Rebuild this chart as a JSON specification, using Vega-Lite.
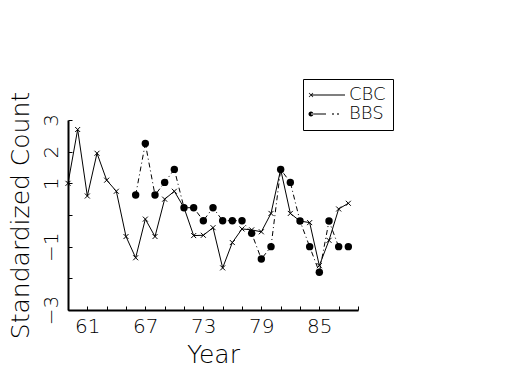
{
  "$schema": "https://vega.github.io/schema/vega-lite/v6.json",
  "autosize": {"type": "none"},
  "padding": {"left": 68, "top": 120, "right": 167, "bottom": 65},
  "width": 290,
  "height": 190,
  "background": "white",
  "config": {
    "view": {"stroke": null},
    "font": "DejaVu Sans",
    "axis": {
      "domainColor": "black",
      "domainWidth": 2,
      "tickColor": "black",
      "tickWidth": 1,
      "tickSize": -4,
      "grid": false,
      "labelColor": "black",
      "titleColor": "black",
      "labelFont": "DejaVu Sans",
      "titleFont": "DejaVu Sans",
      "labelFontWeight": 200,
      "titleFontWeight": 200,
      "labelFontSize": 20,
      "titleFontSize": 25
    },
    "legend": {
      "orient": "none",
      "legendX": 235,
      "legendY": -41,
      "strokeColor": "black",
      "strokeWidth": 1,
      "padding": 7,
      "labelFont": "DejaVu Sans",
      "labelFontWeight": 200,
      "labelFontSize": 18,
      "labelColor": "black",
      "labelOffset": 21,
      "rowPadding": 1
    }
  },
  "data": {
    "values": [
      {"year": 59, "series": "CBC", "value": 1.0},
      {"year": 60, "series": "CBC", "value": 2.7},
      {"year": 61, "series": "CBC", "value": 0.6},
      {"year": 62, "series": "CBC", "value": 1.95},
      {"year": 63, "series": "CBC", "value": 1.1},
      {"year": 64, "series": "CBC", "value": 0.75},
      {"year": 65, "series": "CBC", "value": -0.68},
      {"year": 66, "series": "CBC", "value": -1.35},
      {"year": 67, "series": "CBC", "value": -0.13},
      {"year": 68, "series": "CBC", "value": -0.68},
      {"year": 69, "series": "CBC", "value": 0.5},
      {"year": 70, "series": "CBC", "value": 0.75},
      {"year": 71, "series": "CBC", "value": 0.23},
      {"year": 72, "series": "CBC", "value": -0.65},
      {"year": 73, "series": "CBC", "value": -0.64},
      {"year": 74, "series": "CBC", "value": -0.4},
      {"year": 75, "series": "CBC", "value": -1.67},
      {"year": 76, "series": "CBC", "value": -0.87},
      {"year": 77, "series": "CBC", "value": -0.44},
      {"year": 78, "series": "CBC", "value": -0.47},
      {"year": 79, "series": "CBC", "value": -0.53},
      {"year": 80, "series": "CBC", "value": 0.05},
      {"year": 81, "series": "CBC", "value": 1.44},
      {"year": 82, "series": "CBC", "value": 0.05},
      {"year": 83, "series": "CBC", "value": -0.19},
      {"year": 84, "series": "CBC", "value": -0.24},
      {"year": 85, "series": "CBC", "value": -1.6},
      {"year": 86, "series": "CBC", "value": -0.8},
      {"year": 87, "series": "CBC", "value": 0.19},
      {"year": 88, "series": "CBC", "value": 0.37},
      {"year": 66, "series": "BBS", "value": 0.63},
      {"year": 67, "series": "BBS", "value": 2.26},
      {"year": 68, "series": "BBS", "value": 0.63},
      {"year": 69, "series": "BBS", "value": 1.03},
      {"year": 70, "series": "BBS", "value": 1.44},
      {"year": 71, "series": "BBS", "value": 0.23},
      {"year": 72, "series": "BBS", "value": 0.23},
      {"year": 73, "series": "BBS", "value": -0.18},
      {"year": 74, "series": "BBS", "value": 0.23},
      {"year": 75, "series": "BBS", "value": -0.18},
      {"year": 76, "series": "BBS", "value": -0.18},
      {"year": 77, "series": "BBS", "value": -0.18},
      {"year": 78, "series": "BBS", "value": -0.58},
      {"year": 79, "series": "BBS", "value": -1.39},
      {"year": 80, "series": "BBS", "value": -1.0},
      {"year": 81, "series": "BBS", "value": 1.44},
      {"year": 82, "series": "BBS", "value": 1.03},
      {"year": 83, "series": "BBS", "value": -0.19},
      {"year": 84, "series": "BBS", "value": -1.0},
      {"year": 85, "series": "BBS", "value": -1.81},
      {"year": 86, "series": "BBS", "value": -0.19},
      {"year": 87, "series": "BBS", "value": -1.0},
      {"year": 88, "series": "BBS", "value": -1.0}
    ]
  },
  "encoding": {
    "x": {
      "field": "year",
      "type": "quantitative",
      "scale": {"domain": [59, 89], "nice": false, "zero": false},
      "axis": {
        "title": "Year",
        "values": [59, 61, 63, 65, 67, 69, 71, 73, 75, 77, 79, 81, 83, 85, 87, 89],
        "labelExpr": "(datum.value - 61) % 6 == 0 && datum.value < 89 ? datum.label : ''",
        "labelPadding": 10,
        "titlePadding": 6,
        "labelFlush": false
      }
    },
    "y": {
      "field": "value",
      "type": "quantitative",
      "scale": {"domain": [-3, 3], "nice": false, "zero": false},
      "axis": {
        "title": "Standardized Count",
        "values": [-3, -2, -1, 0, 1, 2, 3],
        "labelExpr": "datum.value == 0 || datum.value == -2 ? '' : datum.label",
        "labelAngle": -90,
        "labelPadding": 11,
        "titlePadding": 8,
        "labelFlush": false
      }
    }
  },
  "layer": [
    {
      "transform": [{"filter": "datum.series == 'CBC'"}],
      "mark": {"type": "line", "color": "black", "strokeWidth": 1}
    },
    {
      "transform": [{"filter": "datum.series == 'BBS'"}],
      "mark": {"type": "line", "color": "black", "strokeWidth": 1, "strokeDash": [5, 3, 1, 3]}
    },
    {
      "transform": [{"filter": "datum.series == 'CBC'"}],
      "mark": {"type": "point", "shape": "M-1,-1L1,1M-1,1L1,-1", "size": 25, "stroke": "black", "strokeWidth": 1, "filled": false, "opacity": 1}
    },
    {
      "transform": [{"filter": "datum.series == 'BBS'"}],
      "mark": {"type": "point", "shape": "circle", "size": 55, "color": "black", "filled": true, "opacity": 1}
    },
    {
      "mark": {"type": "point", "opacity": 0, "filled": true, "color": "black"},
      "encoding": {
        "shape": {
          "field": "series",
          "type": "nominal",
          "scale": {
            "domain": ["CBC", "BBS"],
            "range": [
              "M-1.6,-0.1H5.2V0.1H-1.6Z M-2.05,-0.35L-1.95,-0.45L-1.15,0.35L-1.25,0.45Z M-2.05,0.35L-1.25,-0.45L-1.15,-0.35L-1.95,0.45Z",
              "M-2.1,0A0.5,0.5 0 1,0 -1.1,0A0.5,0.5 0 1,0 -2.1,0Z M-1.6,-0.1H1.4V0.1H-1.6Z M2.65,-0.15H2.95V0.15H2.65Z M3.65,-0.15H3.95V0.15H3.65Z"
            ]
          },
          "legend": {
            "title": null,
            "symbolSize": 100,
            "encode": {
              "symbols": {
                "update": {
                  "opacity": {"value": 1},
                  "fill": {"value": "black"},
                  "fillOpacity": {"value": 1},
                  "strokeWidth": {"value": 0}
                }
              }
            }
          }
        }
      }
    }
  ]
}
